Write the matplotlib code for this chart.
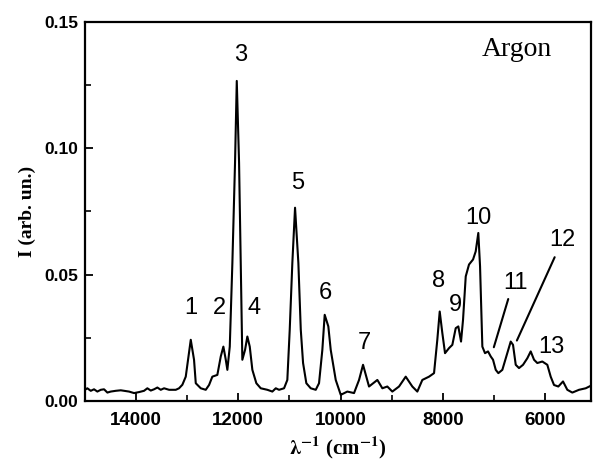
import matplotlib

matplotlib.use("Agg")
import matplotlib.pyplot as plt
from matplotlib.ticker import MultipleLocator, FormatStrFormatter

# === DATA ===

wavenumber = [
    15000, 14953, 14886, 14822, 14757, 14690, 14626, 14561, 14495, 14397,
    14299, 14235, 14137, 14039, 13941, 13844, 13779, 13712, 13648, 13583,
    13517, 13452, 13354, 13223, 13159, 13094, 13028, 12930, 12866, 12832,
    12734, 12637, 12572, 12508, 12410, 12343, 12292, 12245, 12214, 12167,
    12116, 12064, 12030, 11985, 11952, 11921, 11868, 11823, 11776, 11725,
    11647, 11561, 11432, 11334, 11267, 11203, 11105, 11041, 10994, 10943,
    10890, 10825, 10778, 10733, 10669, 10583, 10485, 10421, 10356, 10310,
    10239, 10192, 10094, 9996, 9867, 9736, 9638, 9560, 9443, 9280,
    9182, 9085, 8987, 8856, 8725, 8596, 8498, 8400, 8269, 8171,
    8107, 8060, 8009, 7956, 7878, 7813, 7747, 7696, 7643, 7604,
    7551, 7487, 7408, 7356, 7305, 7271, 7226, 7174, 7115, 7062,
    7017, 6964, 6913, 6835, 6757, 6671, 6626, 6573, 6509, 6430,
    6346, 6280, 6215, 6151, 6053, 5955, 5889, 5824, 5740, 5648,
    5564, 5466, 5335, 5204, 5075,
]

intensity = [
    0.0044, 0.0050, 0.0040, 0.0046, 0.0037, 0.0044, 0.0046, 0.0033, 0.0037, 0.0040,
    0.0042, 0.0040, 0.0037, 0.0031, 0.0035, 0.0040, 0.0050, 0.0041, 0.0046, 0.0053,
    0.0044, 0.0050, 0.0044, 0.0044, 0.0050, 0.0064, 0.0096, 0.0242, 0.0163, 0.0070,
    0.0050, 0.0044, 0.0063, 0.0096, 0.0103, 0.0176, 0.0215, 0.0163, 0.0123, 0.0215,
    0.0546, 0.0943, 0.1267, 0.0943, 0.0546, 0.0163, 0.0202, 0.0255, 0.0215, 0.0123,
    0.0070, 0.0050, 0.0044, 0.0037, 0.0050, 0.0044, 0.0050, 0.0083, 0.0282, 0.0546,
    0.0765, 0.0546, 0.0282, 0.0150, 0.0070, 0.0050, 0.0044, 0.0070, 0.0202, 0.0341,
    0.0295, 0.0202, 0.0083, 0.0024, 0.0037, 0.0031, 0.0083, 0.0143, 0.0057, 0.0083,
    0.0050, 0.0057, 0.0037, 0.0057, 0.0096, 0.0057, 0.0037, 0.0083, 0.0096, 0.0110,
    0.0242, 0.0354, 0.0269, 0.0189, 0.0209, 0.0222, 0.0288, 0.0295, 0.0235, 0.0321,
    0.0493, 0.0540, 0.0560, 0.0592, 0.0665, 0.0533, 0.0215, 0.0189, 0.0196, 0.0176,
    0.0163, 0.0123, 0.0110, 0.0123, 0.0176, 0.0235, 0.0222, 0.0143, 0.0130, 0.0143,
    0.0169, 0.0196, 0.0163, 0.0150, 0.0156, 0.0143, 0.0096, 0.0063, 0.0057, 0.0077,
    0.0044, 0.0033, 0.0044, 0.0050, 0.0063,
]

# peak labels: text, x, y
peak_labels = ["1", "2", "3", "4", "5", "6", "7", "8", "9", "10", "11", "12", "13"]
peak_label_x = [12930, 12377, 11952, 11692, 10845, 10303, 9540, 8073, 7747, 7305, 6587, 5662, 5866]
peak_label_y = [0.0368, 0.0368, 0.137, 0.0368, 0.0864, 0.0427, 0.0229, 0.0473, 0.0381, 0.0725, 0.0467, 0.0639, 0.0215]

# pointer lines for 11 and 12: start (near label) -> end (on curve)
arrow_start = [(6704, 0.0414), (5789, 0.0579)]
arrow_end = [(7017, 0.0202), (6573, 0.0229)]

# === PLOT ===

plt.rcParams["mathtext.fontset"] = "stix"

fig = plt.figure(figsize=(5.94, 4.70), dpi=100)
ax = fig.add_axes([0.143, 0.147, 0.852, 0.806])

ax.plot(wavenumber, intensity, color="black", linewidth=1.5)

ax.set_xlim(15000, 5100)
ax.set_ylim(0, 0.15)

ax.xaxis.set_major_locator(MultipleLocator(2000))
ax.xaxis.set_minor_locator(MultipleLocator(1000))
ax.yaxis.set_major_locator(MultipleLocator(0.05))
ax.yaxis.set_minor_locator(MultipleLocator(0.025))
ax.yaxis.set_major_formatter(FormatStrFormatter("%.2f"))

ax.tick_params(which="major", direction="in", length=6, width=1.3)
ax.tick_params(which="minor", direction="in", length=4, width=1.2)
ax.tick_params(axis="x", labelsize=13.5, pad=8)
ax.tick_params(axis="y", labelsize=12.5, pad=5)
for lbl in ax.get_xticklabels() + ax.get_yticklabels():
    lbl.set_fontweight("bold")
    lbl.set_family("Liberation Sans")

for side in ["left", "bottom", "top", "right"]:
    ax.spines[side].set_linewidth(1.6)

for txt, x, y in zip(peak_labels, peak_label_x, peak_label_y):
    ax.text(x, y, txt, ha="center", va="center", fontsize=17, family="Liberation Sans")

for (x0, y0), (x1, y1) in zip(arrow_start, arrow_end):
    ax.annotate(
        "",
        xy=(x1, y1),
        xytext=(x0, y0),
        arrowprops=dict(arrowstyle="-", color="black", lw=1.5),
    )

ax.text(6550, 0.139, "Argon", ha="center", va="center", fontsize=20,
        family="Liberation Serif")

ax.set_ylabel("I (arb. un.)", fontsize=14, fontweight="bold", family="Liberation Serif",
              labelpad=6)
ax.set_xlabel(r"$\mathbf{\lambda^{-1}}$ (cm$^{\mathbf{-1}}$)", fontsize=15,
              fontweight="bold", family="Liberation Serif", labelpad=4)

fig.savefig("out.png", dpi=100)
